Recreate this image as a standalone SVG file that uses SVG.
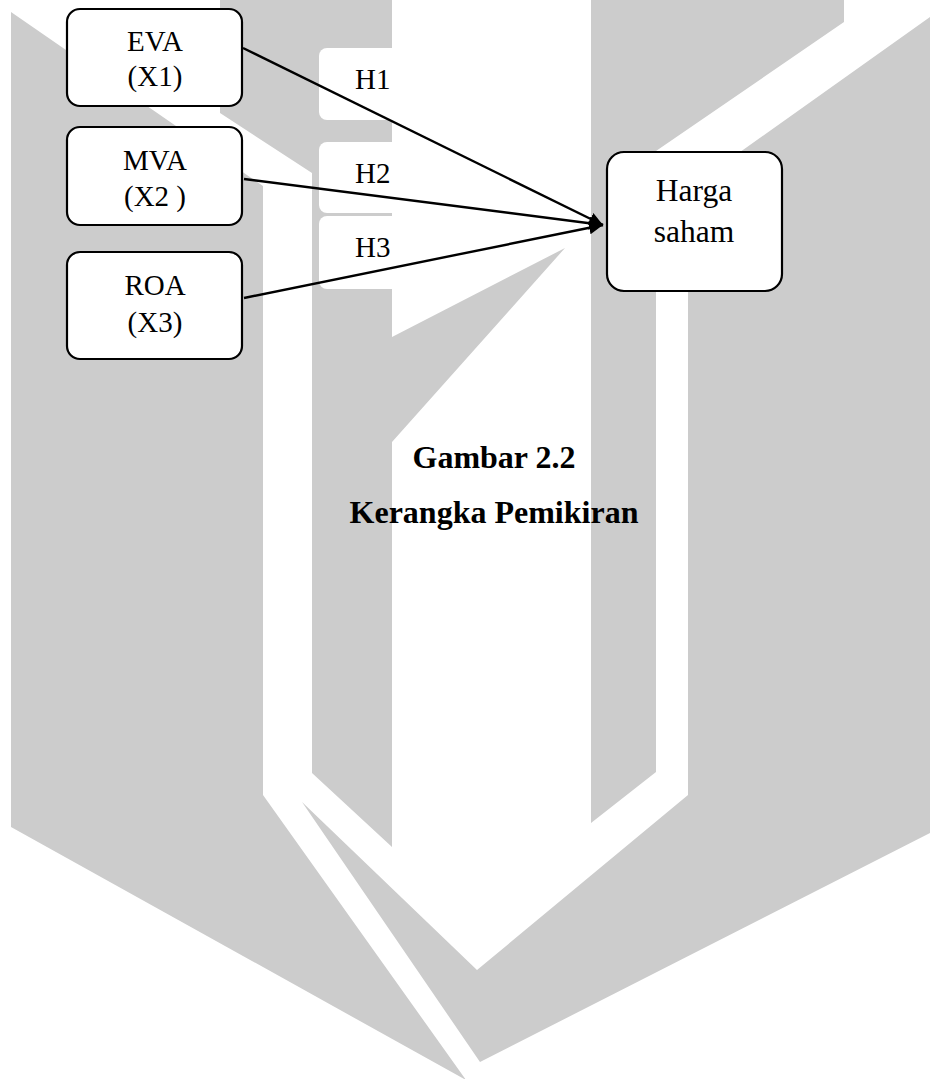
<svg xmlns="http://www.w3.org/2000/svg" width="930" height="1079" viewBox="0 0 930 1079">
  <style>
    .wm { fill: #cccccc; }
    .box { fill: #ffffff; stroke: #000000; stroke-width: 2.2; }
    .lbl { font-family: "Liberation Serif", "Times New Roman", serif; font-size: 29px; fill: #000000; }
    .big { font-family: "Liberation Serif", "Times New Roman", serif; font-size: 31.5px; fill: #000000; }
    .cap { font-family: "Liberation Serif", "Times New Roman", serif; font-size: 32px; font-weight: bold; fill: #000000; }
    .tag { fill: #ffffff; }
    .edge { stroke: #000000; stroke-width: 2.4; fill: none; marker-end: url(#arrow); }
  </style>
  <defs>
    <marker id="arrow" markerUnits="userSpaceOnUse" markerWidth="16" markerHeight="14" refX="14" refY="6.5" orient="auto">
      <path d="M0,0 L14,6.5 L0,13 Z" fill="#000000"/>
    </marker>
  </defs>
  <rect width="930" height="1079" fill="#ffffff"/>
  <g id="watermark">
    <polygon class="wm" points="11,12 263,186 263,795 466,1080 11,827"/>
    <polygon class="wm" points="220,0 392,0 392,337 565,248 392,442 392,847 312,773 312,173 220,113"/>
    <polygon class="wm" points="591,0 844,0 844,22 656,151 656,772 591,823"/>
    <polygon class="wm" points="302,802 477,970 688,795 688,189 930,17 930,833 480,1062"/>
  </g>
  <g id="labels">
    <rect class="tag" x="319" y="48" width="110" height="72" rx="8"/>
    <rect class="tag" x="319" y="142" width="110" height="71" rx="8"/>
    <rect class="tag" x="319" y="216" width="110" height="73" rx="8"/>
    <text class="lbl" x="355" y="89">H1</text>
    <text class="lbl" x="355" y="183">H2</text>
    <text class="lbl" x="355" y="257">H3</text>
  </g>
  <g id="connectors">
    <line class="edge" x1="243" y1="48" x2="603" y2="225"/>
    <line class="edge" x1="244" y1="179" x2="603" y2="225"/>
    <line class="edge" x1="244" y1="298" x2="603" y2="225"/>
  </g>
  <g id="node-eva">
    <rect class="box" x="67" y="9" width="175" height="97" rx="13"/>
    <text class="lbl" x="155" y="51" text-anchor="middle">EVA</text>
    <text class="lbl" x="155" y="86" text-anchor="middle">(X1)</text>
  </g>
  <g id="node-mva">
    <rect class="box" x="67" y="127" width="175" height="98" rx="13"/>
    <text class="lbl" x="155" y="170" text-anchor="middle">MVA</text>
    <text class="lbl" x="155" y="206" text-anchor="middle">(X2 )</text>
  </g>
  <g id="node-roa">
    <rect class="box" x="67" y="252" width="175" height="107" rx="13"/>
    <text class="lbl" x="155" y="295" text-anchor="middle">ROA</text>
    <text class="lbl" x="155" y="332" text-anchor="middle">(X3)</text>
  </g>
  <g id="node-harga">
    <rect class="box" x="607" y="152" width="175" height="139" rx="17"/>
    <text class="big" x="694" y="201" text-anchor="middle">Harga</text>
    <text class="big" x="694" y="242" text-anchor="middle">saham</text>
  </g>
  <g id="caption">
    <text class="cap" x="494" y="468" text-anchor="middle">Gambar 2.2</text>
    <text class="cap" x="494" y="523" text-anchor="middle">Kerangka Pemikiran</text>
  </g>
</svg>
